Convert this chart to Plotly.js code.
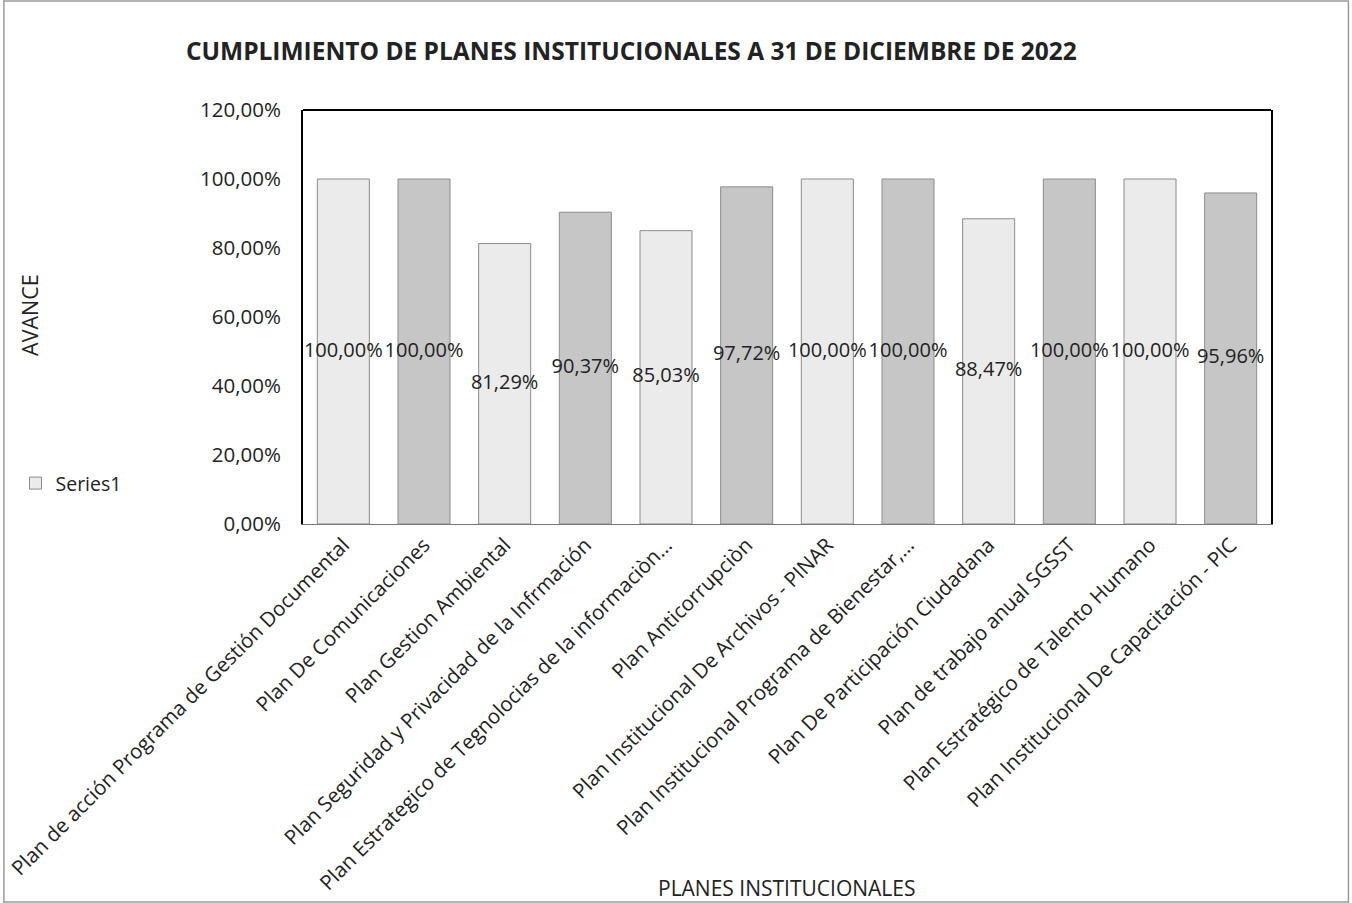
<!DOCTYPE html>
<html>
<head>
<meta charset="utf-8">
<script src="https://cdn.plot.ly/plotly-3.0.1.min.js"></script>
<style>
  html, body { margin: 0; padding: 0; background: #ffffff; }
  #chart { width: 1352px; height: 903px; }
</style>
</head>
<body>
<div id="chart"></div>
<script>
// ---- Data ----
const categories = [
  "Plan de acción Programa de Gestión Documental",
  "Plan De Comunicaciones",
  "Plan Gestion Ambiental",
  "Plan Seguridad y Privacidad de la Infrmación",
  "Plan Estrategico de Tegnolocias de la informaciòn…",
  "Plan Anticorrupciòn",
  "Plan Institucional De Archivos - PINAR",
  "Plan Institucional Programa de Bienestar,…",
  "Plan De Participación Ciudadana",
  "Plan de trabajo anual SGSST",
  "Plan Estratégico de Talento Humano",
  "Plan Institucional De Capacitación - PIC"
];
const avance = [1.0, 1.0, 0.8129, 0.9037, 0.8503, 0.9772, 1.0, 1.0, 0.8847, 1.0, 1.0, 0.9596];
const seriesName = "Series1";
const yTicks = [0, 0.2, 0.4, 0.6, 0.8, 1.0, 1.2];

// ---- Derived ----
const labels = avance.map(v => (v * 100).toFixed(2).replace('.', ',') + '%');
const labelY = avance.map(v => v / 2);
const barColors = avance.map((v, i) => i % 2 === 0 ? '#ebebeb' : '#c6c6c6');

const FONT = "'Open Sans', 'Noto Sans', sans-serif";

const barTrace = {
  type: 'bar',
  x: categories,
  y: avance,
  name: seriesName,
  width: 0.645,
  marker: { color: barColors, line: { color: '#8c8c8c', width: 1 } },
  hoverinfo: 'x+y',
  showlegend: true
};

const labelTrace = {
  type: 'scatter',
  mode: 'text',
  x: categories,
  y: labelY,
  text: labels,
  textposition: 'middle center',
  textfont: { family: FONT, size: 20, color: '#222222' },
  hoverinfo: 'skip',
  showlegend: false,
  cliponaxis: false
};

const layout = {
  width: 1352,
  height: 903,
  paper_bgcolor: '#ffffff',
  plot_bgcolor: '#ffffff',
  separators: ',.',
  margin: { l: 303, r: 81, t: 110, b: 379 },
  font: { family: FONT, size: 20, color: '#222222' },
  title: {
    text: 'CUMPLIMIENTO DE PLANES INSTITUCIONALES A 31 DE DICIEMBRE DE 2022',
    font: { family: FONT, size: 24.5, color: '#222222', weight: 'bold' },
    x: 0.467, xanchor: 'center',
    y: 0.943, yanchor: 'middle'
  },
  xaxis: {
    type: 'category',
    range: [-0.5, categories.length - 0.5],
    autorange: false,
    tickangle: -45,
    tickfont: { family: FONT, size: 20.5, color: '#222222' },
    showline: true,
    linecolor: '#777777',
    linewidth: 1,
    showgrid: false,
    ticks: '',
    automargin: false
  },
  yaxis: {
    range: [0, 1.2],
    autorange: false,
    tickvals: yTicks,
    tickformat: '.2%',
    tickfont: { family: FONT, size: 20.5, color: '#222222' },
    showgrid: false,
    zeroline: false,
    showline: true,
    mirror: true,
    linecolor: '#000000',
    linewidth: 2,
    ticks: '',
    ticklabelstandoff: 16,
    automargin: false
  },
  legend: {
    x: -0.297, xanchor: 'left',
    y: 0.098, yanchor: 'middle',
    font: { family: FONT, size: 19.5, color: '#222222' },
    itemwidth: 30,
    bgcolor: 'rgba(0,0,0,0)'
  },
  annotations: [
    {
      text: 'AVANCE',
      xref: 'paper', yref: 'paper',
      x: -0.282, y: 0.505,
      xanchor: 'center', yanchor: 'middle',
      textangle: -90,
      showarrow: false,
      font: { family: FONT, size: 21.5, color: '#222222' }
    },
    {
      text: 'PLANES INSTITUCIONALES',
      xref: 'paper', yref: 'paper',
      x: 0.5, y: -0.879,
      xanchor: 'center', yanchor: 'middle',
      showarrow: false,
      font: { family: FONT, size: 21, color: '#222222' }
    }
  ],
  shapes: [
    {
      type: 'line', xref: 'paper', yref: 'paper',
      x0: 0, x1: 1, y0: 1, y1: 1,
      line: { color: '#000000', width: 2 }
    },
    {
      type: 'rect', xref: 'paper', yref: 'paper',
      x0: -0.309, x1: 1.080, y0: -0.913, y1: 1.263,
      line: { color: '#9a9a9a', width: 1.5 },
      fillcolor: 'rgba(0,0,0,0)'
    }
  ],
  bargap: 0.355
};

Plotly.newPlot('chart', [barTrace, labelTrace], layout, { displayModeBar: false, staticPlot: true });
</script>
</body>
</html>
